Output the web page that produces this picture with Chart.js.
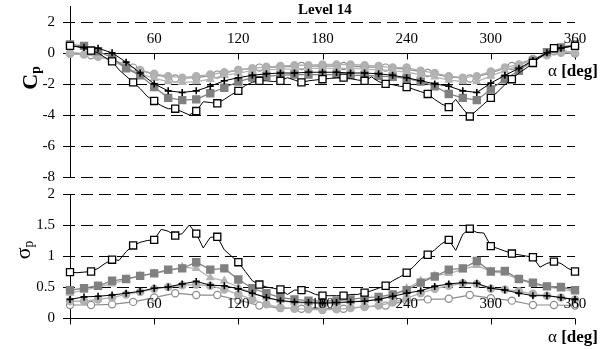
<!DOCTYPE html>
<html lang="en">
<head>
<meta charset="UTF-8">
<title>Level 14 - Cp and sigma p</title>
<script src="https://cdn.jsdelivr.net/npm/chart.js"></script>
<style>
    body { margin: 0; background: #fff; }
    #wrap { position: relative; width: 611px; height: 350px; font-family: "Liberation Serif", "Times New Roman", serif; color: #000; }
    .panel { position: absolute; left: 0; width: 611px; }
    .lbl { position: absolute; line-height: 1; white-space: nowrap; }
    .ylbl { position: absolute; width: 50px; height: 26px; line-height: 26px; text-align: center; transform: rotate(-90deg); }
    sub { font-size: 0.62em; vertical-align: -0.25em; }
</style>
</head>
<body>
<div id="wrap">
    <div class="panel" style="top:0;height:186px"><canvas id="cpChart"></canvas></div>
    <div class="panel" style="top:180px;height:170px"><canvas id="spChart"></canvas></div>

    <div class="lbl" style="left:298px;top:2px;font-size:15px;font-weight:bold">Level 14</div>
    <div class="lbl" style="right:13px;top:62px;font-size:17px"><span>α</span> <b>[deg]</b></div>
    <div class="lbl" style="right:13px;top:328px;font-size:17px"><span>α</span> <b>[deg]</b></div>
    <div class="ylbl" style="left:5px;top:65px;font-size:22px;font-weight:bold">C<sub>p</sub></div>
    <div class="ylbl" style="left:-2px;top:237px;font-size:22px">σ<sub>p</sub></div>
</div>

<script>
// wind angle, three sampling steps
const alpha5 = [0,5,10,15,20,25,30,35,40,45,50,55,60,65,70,75,80,85,90,95,100,105,110,115,120,125,130,135,140,145,
    150,155,160,165,170,175,180,185,190,195,200,205,210,215,220,225,230,235,240,245,250,255,260,265,270,275,280,285,290,295,
    300,305,310,315,320,325,330,335,340,345,350,355,360];
const alpha10 = [0,10,20,30,40,50,60,70,80,90,100,110,120,130,140,150,160,170,180,190,200,210,220,230,240,250,260,270,280,290,300,310,320,330,340,350,360];
const alpha15 = [0,15,30,45,60,75,90,105,120,135,150,165,180,195,210,225,240,255,270,285,300,315,330,345,360];
const alphaTicks = [0,60,120,180,240,300,360];
const alphaLabels = [60,120,180,240,300,360];
const cpTicks = [-8,-6,-4,-2,0,2];

// mean pressure coefficient Cp
const cpSquares = [0.45,0.4,0.3,0.15,0.0,-0.3,-0.55,-1.1,-1.5,-1.9,
    -2.3,-2.8,-3.1,-3.4,-3.6,-3.6,-3.8,-4.0,-3.75,-3.15,
    -3.2,-3.25,-3.0,-2.7,-2.45,-2.1,-1.9,-1.8,-1.8,-1.85,
    -1.8,-1.6,-1.75,-1.9,-1.8,-1.75,-1.7,-1.65,-1.6,-1.6,
    -1.65,-1.75,-1.8,-1.55,-1.85,-2.0,-2.05,-2.15,-2.2,-2.35,
    -2.5,-2.65,-3.0,-3.3,-3.5,-3.0,-3.6,-4.1,-3.7,-3.3,
    -2.9,-2.5,-2.05,-1.7,-1.3,-1.0,-0.65,-0.3,0.0,0.3,
    0.35,0.4,0.45];
const cpPlus = [0.45,0.35,0.3,0.0,-0.6,-1.3,-2.0,-2.45,-2.55,-2.45,-2.15,-1.8,-1.6,-1.45,-1.35,-1.3,-1.3,-1.25,-1.25,
    -1.25,-1.3,-1.3,-1.35,-1.45,-1.6,-1.8,-2.0,-2.15,-2.45,-2.55,-1.95,-1.45,-1.0,-0.5,0.0,0.3,0.45];
const cpGraySquares = [0.55,0.45,0.1,-0.3,-1.0,-1.45,-2.2,-2.9,-3.05,-3.0,-2.6,-2.25,-1.85,-1.6,-1.5,-1.45,-1.4,-1.4,-1.4,
    -1.4,-1.45,-1.45,-1.5,-1.55,-1.65,-1.85,-2.15,-2.65,-2.9,-3.05,-2.35,-1.7,-1.15,-0.5,0.05,0.35,0.55];
const cpTriangles = [0.05,-0.05,-0.2,-0.5,-0.95,-1.35,-1.65,-1.85,-1.9,-1.85,-1.7,-1.45,-1.3,-1.15,-1.1,-1.05,-1.05,-1.0,-1.0,
    -1.0,-1.0,-1.05,-1.1,-1.15,-1.25,-1.4,-1.55,-1.75,-1.85,-1.85,-1.5,-1.15,-0.8,-0.45,-0.1,0.15,0.05];
const cpCircles = [-0.05,-0.1,-0.25,-0.45,-0.8,-1.1,-1.35,-1.5,-1.6,-1.5,-1.4,-1.25,-1.1,-1.0,-0.9,-0.85,-0.8,-0.8,-0.75,
    -0.75,-0.75,-0.8,-0.85,-0.95,-0.95,-1.15,-1.3,-1.5,-1.6,-1.5,-1.2,-0.95,-0.75,-0.45,-0.15,0.0,0.0];
const cpOpen = [-0.05,-0.15,-0.45,-0.95,-1.4,-1.65,-1.6,-1.4,-1.1,-0.95,-0.9,-0.85,-0.85,-0.85,-0.9,-0.95,-1.05,-1.3,
    -1.55,-1.65,-1.3,-0.85,-0.4,0.1,-0.05];

// rms pressure coefficient sigma p
const spSquares = [0.74,0.73,0.74,0.75,0.8,0.88,0.94,0.93,1.07,1.17,
    1.22,1.25,1.26,1.43,1.4,1.33,1.36,1.5,1.36,1.13,
    1.3,1.31,1.1,1.0,0.9,0.75,0.6,0.54,0.5,0.48,
    0.46,0.38,0.45,0.45,0.43,0.38,0.36,0.36,0.36,0.36,
    0.38,0.38,0.41,0.44,0.48,0.52,0.6,0.66,0.73,0.83,
    0.95,1.02,1.1,1.2,1.26,1.09,1.35,1.44,1.38,1.37,
    1.16,1.12,1.08,1.04,1.02,1.0,0.98,0.82,0.88,0.91,
    0.88,0.8,0.75];
const spPlus = [0.3,0.34,0.35,0.37,0.4,0.43,0.48,0.5,0.55,0.59,0.53,0.52,0.47,0.4,0.33,0.28,0.26,0.25,0.24,
    0.25,0.26,0.27,0.3,0.35,0.4,0.44,0.51,0.55,0.57,0.56,0.48,0.45,0.4,0.36,0.36,0.33,0.3];
const spGraySquares = [0.45,0.48,0.52,0.6,0.63,0.68,0.72,0.78,0.8,0.9,0.78,0.8,0.62,0.48,0.4,0.33,0.3,0.28,0.27,
    0.28,0.3,0.33,0.34,0.38,0.45,0.57,0.67,0.78,0.8,0.92,0.75,0.76,0.63,0.57,0.51,0.5,0.45];
const spTriangles = [0.4,0.45,0.5,0.55,0.62,0.68,0.72,0.76,0.82,0.8,0.65,0.6,0.5,0.4,0.33,0.28,0.25,0.24,0.23,
    0.24,0.26,0.28,0.3,0.36,0.48,0.6,0.68,0.72,0.78,0.85,0.75,0.72,0.62,0.55,0.5,0.47,0.42];
const spCircles = [0.27,0.27,0.3,0.33,0.38,0.42,0.47,0.5,0.53,0.54,0.52,0.46,0.38,0.3,0.22,0.17,0.15,0.14,0.13,
    0.14,0.16,0.18,0.2,0.25,0.32,0.4,0.47,0.52,0.56,0.55,0.47,0.46,0.43,0.39,0.36,0.33,0.3];
const spOpen = [0.21,0.21,0.22,0.26,0.33,0.4,0.37,0.37,0.29,0.2,0.16,0.15,0.15,0.15,0.18,0.2,0.28,0.3,0.31,0.37,
    0.32,0.28,0.21,0.21,0.2];

const serif = "'Liberation Serif', 'Times New Roman', serif";

function pts(xs, ys) {
    return xs.map((a, i) => ({ x: a, y: ys[i] }));
}

// line styles for the six curves
const styles = {
    squares:  { borderColor: '#000', borderWidth: 1, pointStyle: 'rect', pointBackgroundColor: '#fff',
                pointBorderColor: '#000', pointBorderWidth: 1.3, pointRadius: c => (c.dataIndex % 3 ? 0 : 5) },
    plus:     { borderColor: '#000', borderWidth: 1, pointStyle: 'cross', pointBorderColor: '#000',
                pointBorderWidth: 1.6, pointRadius: 3.5 },
    graySq:   { borderColor: '#808080', borderWidth: 1.3, pointStyle: 'rect', pointBackgroundColor: '#808080',
                pointBorderColor: '#808080', pointRadius: 5 },
    triangle: { borderColor: '#b4b4b4', borderWidth: 1.3, pointStyle: 'triangle', pointBackgroundColor: '#b4b4b4',
                pointBorderColor: '#b4b4b4', pointRadius: 4 },
    circle:   { borderColor: '#b0b0b0', borderWidth: 1.3, pointStyle: 'circle', pointBackgroundColor: '#b0b0b0',
                pointBorderColor: '#b0b0b0', pointRadius: 3.6 },
    open:     { borderColor: '#8c8c8c', borderWidth: 1.2, pointStyle: 'circle', pointBackgroundColor: '#fff',
                pointBorderColor: '#8c8c8c', pointBorderWidth: 1.2, pointRadius: 3.6 }
};

function ds(xs, ys, style) {
    return Object.assign({ data: pts(xs, ys), fill: false, tension: 0, clip: false }, style);
}

// dashed grid, zero axis with ticks, angle labels sitting above the zero line
const zeroAxis = {
    id: 'zeroAxis',
    beforeDatasetsDraw(chart) {
        const { ctx, chartArea, scales: { x, y } } = chart;
        ctx.save();
        ctx.strokeStyle = '#000';
        ctx.lineWidth = 1;
        ctx.setLineDash([12, 6]);
        y.ticks.forEach(t => {
            if (t.value === 0) return;
            const py = Math.round(y.getPixelForValue(t.value)) + 0.5;
            ctx.beginPath();
            ctx.moveTo(chartArea.left - 7, py);
            ctx.lineTo(chartArea.right, py);
            ctx.stroke();
        });
        ctx.setLineDash([]);
        const y0 = Math.round(y.getPixelForValue(0)) + 0.5;
        ctx.beginPath();
        ctx.moveTo(chartArea.left - 7, y0);
        ctx.lineTo(chartArea.right, y0);
        alphaTicks.forEach(a => {
            const px = Math.round(x.getPixelForValue(a)) + 0.5;
            ctx.moveTo(px, y0);
            ctx.lineTo(px, y0 + 6);
        });
        ctx.stroke();
        ctx.restore();
    },
    afterDatasetsDraw(chart) {
        const { ctx, scales: { x, y } } = chart;
        const y0 = y.getPixelForValue(0);
        ctx.save();
        ctx.fillStyle = '#000';
        ctx.font = '15px ' + serif;
        ctx.textAlign = 'center';
        ctx.textBaseline = 'alphabetic';
        alphaLabels.forEach(a => ctx.fillText(String(a), x.getPixelForValue(a), y0 - 10));
        ctx.restore();
    }
};

function yAxis(min, max, extra) {
    return Object.assign({
        min: min,
        max: max,
        grid: { display: false, drawTicks: false },
        border: { display: true, color: '#000', width: 1 },
        ticks: { color: '#000', padding: 15, font: { family: serif, size: 15 }, callback: v => String(v) },
        afterFit(scale) {
            scale.width = 70;
            scale.paddingTop = 0;
            scale.paddingBottom = 0;
        }
    }, extra);
}

function makeChart(id, datasets, y, padding) {
    return new Chart(document.getElementById(id), {
        type: 'line',
        data: { datasets: datasets },
        options: {
            responsive: true,
            maintainAspectRatio: false,
            animation: false,
            events: [],
            layout: { padding: padding },
            scales: {
                x: { type: 'linear', min: 0, max: 360, display: false },
                y: y
            },
            plugins: { legend: { display: false }, tooltip: { enabled: false } }
        },
        plugins: [zeroAxis]
    });
}

makeChart('cpChart', [
    ds(alpha5, cpSquares, styles.squares),
    ds(alpha10, cpPlus, styles.plus),
    ds(alpha10, cpGraySquares, styles.graySq),
    ds(alpha10, cpTriangles, styles.triangle),
    ds(alpha10, cpCircles, styles.circle),
    ds(alpha15, cpOpen, styles.open)
], yAxis(-8, 3, {
    afterBuildTicks(scale) { scale.ticks = cpTicks.map(v => ({ value: v })); }
}), { left: 0, right: 36, top: 0, bottom: 9 });

makeChart('spChart', [
    ds(alpha5, spSquares, styles.squares),
    ds(alpha10, spPlus, styles.plus),
    ds(alpha10, spGraySquares, styles.graySq),
    ds(alpha10, spTriangles, styles.triangle),
    ds(alpha10, spCircles, styles.circle),
    ds(alpha15, spOpen, styles.open)
], yAxis(0, 2, {
    ticks: { color: '#000', padding: 15, stepSize: 0.5, font: { family: serif, size: 15 }, callback: v => String(v) }
}), { left: 0, right: 36, top: 14, bottom: 32 });
</script>
</body>
</html>
